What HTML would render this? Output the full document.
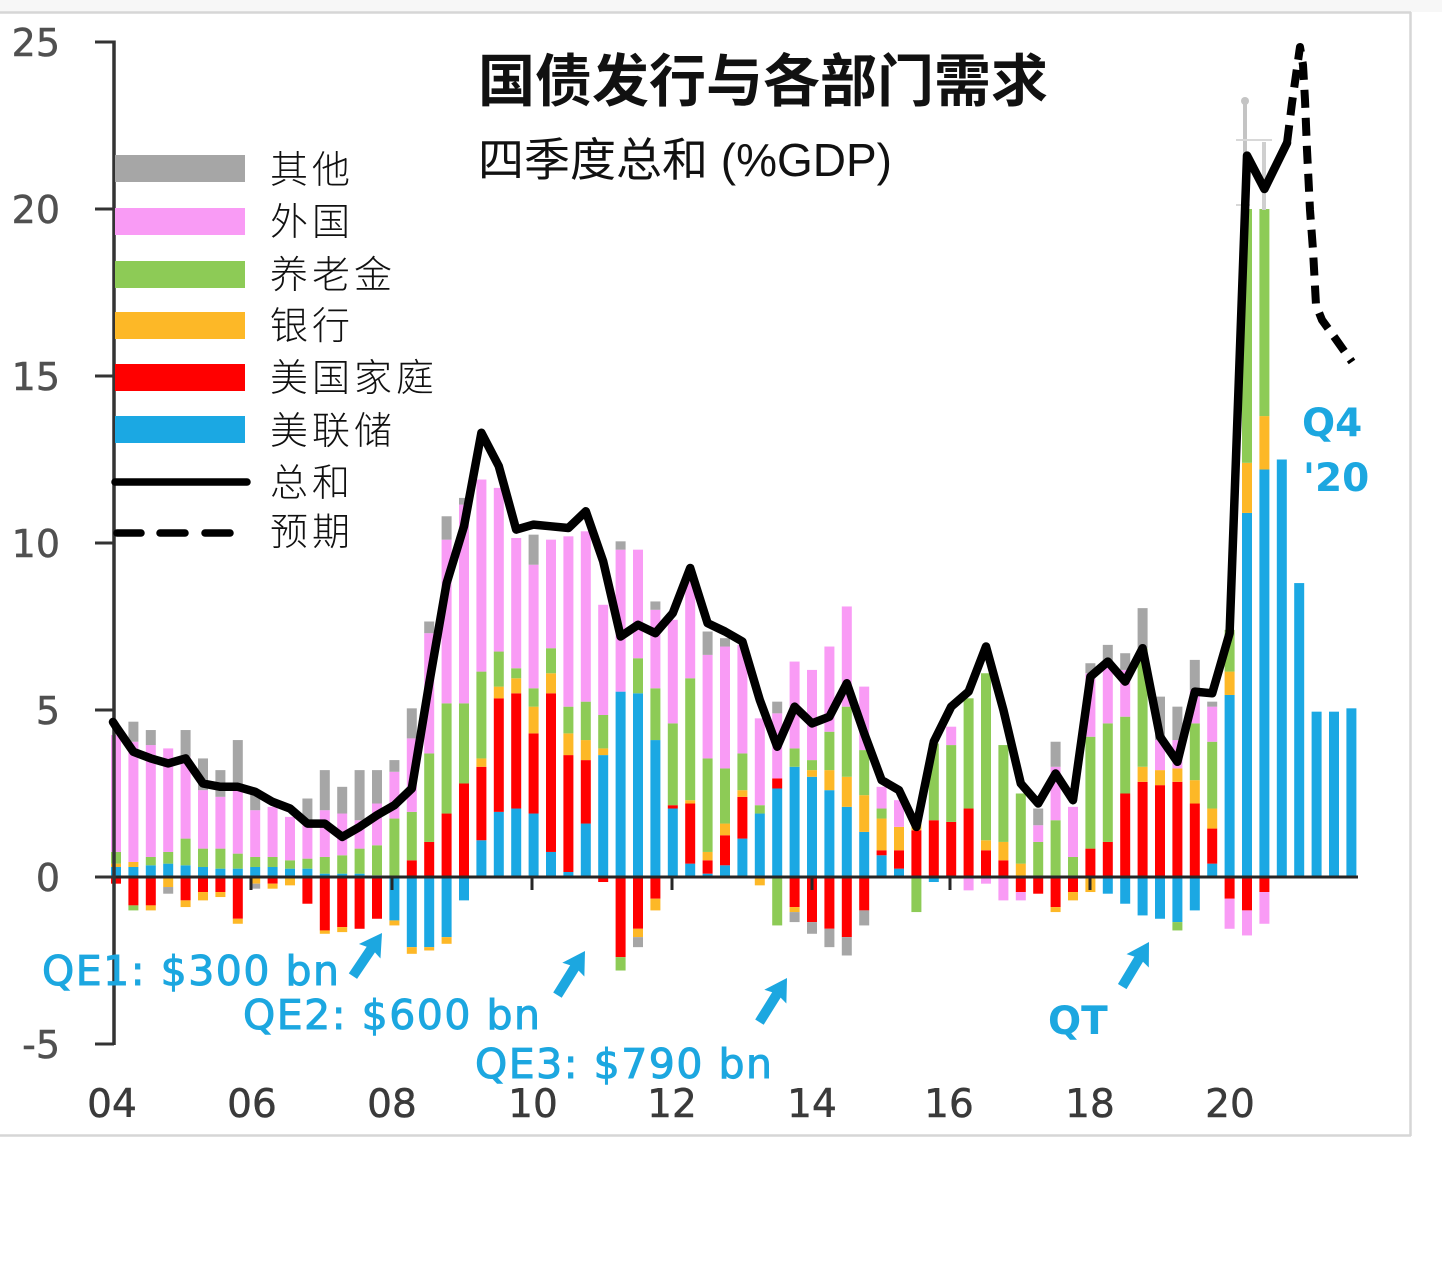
<!DOCTYPE html>
<html>
<head>
<meta charset="utf-8">
<style>
html,body{margin:0;padding:0;background:#fff;}
body{width:1442px;height:1262px;overflow:hidden;}
svg{display:block;}
.yl{font-family:"DejaVu Sans","Liberation Sans",sans-serif;font-size:38px;fill:#505050;stroke:#505050;stroke-width:0.5px;}
.xl{font-family:"DejaVu Sans","Liberation Sans",sans-serif;font-size:39px;fill:#3a3a3a;stroke:#3a3a3a;stroke-width:0.5px;}
.lg{font-family:"Liberation Sans","Noto Sans CJK SC",sans-serif;font-size:38px;font-weight:300;fill:#111;letter-spacing:4px;}
.an{font-family:"DejaVu Sans","Liberation Sans",sans-serif;font-size:41px;letter-spacing:1.5px;fill:#1CA7E0;stroke:#1CA7E0;stroke-width:1px;}
.anb{font-family:"DejaVu Sans","Liberation Sans",sans-serif;font-size:39px;font-weight:bold;fill:#1CA7E0;}
</style>
</head>
<body>
<svg id="c" xmlns="http://www.w3.org/2000/svg" width="1442" height="1262" viewBox="0 0 1442 1262">
  <rect x="0" y="0" width="1442" height="1262" fill="#ffffff"/>
  <rect x="0" y="0" width="1442" height="12" fill="#f7f7f7"/>
  <!-- frame -->
  <line x1="0" y1="12.5" x2="1411" y2="12.5" stroke="#d6d6d6" stroke-width="2.5"/>
  <line x1="1410.5" y1="12" x2="1410.5" y2="1136" stroke="#d6d6d6" stroke-width="2.5"/>
  <line x1="0" y1="1135.5" x2="1411" y2="1135.5" stroke="#d6d6d6" stroke-width="2.5"/>

  <g id="bars"></g>

  <!-- faint gray marks at top of 2020 bars -->
  <rect x="1243" y="100" width="4" height="110" fill="#c4c4c4"/>
  <circle cx="1245" cy="101" r="4" fill="#c4c4c4"/>
  <rect x="1262" y="142" width="4" height="68" fill="#cfcfcf"/>
  <line x1="1236" y1="140" x2="1272" y2="140" stroke="#d8d8d8" stroke-width="2"/>
  <line x1="1236" y1="205" x2="1250" y2="205" stroke="#d8d8d8" stroke-width="2"/>

  <!-- zero line -->
  <line x1="113" y1="877" x2="1358" y2="877" stroke="#262626" stroke-width="3"/>
  <!-- year ticks -->
  <g stroke="#262626" stroke-width="3">
    <line x1="251" y1="877" x2="251" y2="890"/>
    <line x1="392" y1="877" x2="392" y2="890"/>
    <line x1="532" y1="877" x2="532" y2="890"/>
    <line x1="672" y1="877" x2="672" y2="890"/>
    <line x1="812" y1="877" x2="812" y2="890"/>
    <line x1="950" y1="877" x2="950" y2="890"/>
    <line x1="1090" y1="877" x2="1090" y2="890"/>
  </g>
  <!-- y axis -->
  <line x1="114" y1="40.5" x2="114" y2="1045" stroke="#333" stroke-width="3.5"/>
  <g stroke="#333" stroke-width="3">
    <line x1="95" y1="42" x2="114" y2="42"/>
    <line x1="95" y1="209" x2="114" y2="209"/>
    <line x1="95" y1="376" x2="114" y2="376"/>
    <line x1="95" y1="543" x2="114" y2="543"/>
    <line x1="95" y1="710" x2="114" y2="710"/>
    <line x1="95" y1="877" x2="114" y2="877"/>
    <line x1="95" y1="1044" x2="114" y2="1044"/>
  </g>
  <g class="yl" text-anchor="end">
    <text x="60" y="56">25</text>
    <text x="60" y="223">20</text>
    <text x="60" y="390">15</text>
    <text x="60" y="557">10</text>
    <text x="60" y="724">5</text>
    <text x="60" y="891">0</text>
    <text x="60" y="1058">-5</text>
  </g>
  <g class="xl" text-anchor="middle">
    <text x="112" y="1117">04</text>
    <text x="252" y="1117">06</text>
    <text x="392" y="1117">08</text>
    <text x="533" y="1117">10</text>
    <text x="672" y="1117">12</text>
    <text x="812" y="1117">14</text>
    <text x="949" y="1117">16</text>
    <text x="1090" y="1117">18</text>
    <text x="1230" y="1117">20</text>
  </g>

  <g id="lines"></g>

  <!-- legend -->
  <rect x="115" y="155" width="130" height="27" fill="#A6A6A6"/>
  <rect x="115" y="208" width="130" height="27" fill="#F99BF5"/>
  <rect x="115" y="261" width="130" height="27" fill="#8DCB56"/>
  <rect x="115" y="312" width="130" height="27" fill="#FDB827"/>
  <rect x="115" y="364" width="130" height="27" fill="#FF0000"/>
  <rect x="115" y="416" width="130" height="27" fill="#1BA8E3"/>
  <line x1="115" y1="482" x2="247" y2="482" stroke="#000" stroke-width="7.5" stroke-linecap="round"/>
  <g stroke="#000" stroke-width="7.5" stroke-linecap="round">
    <line x1="117" y1="533" x2="141" y2="533"/>
    <line x1="160" y1="533" x2="185" y2="533"/>
    <line x1="205" y1="533" x2="230" y2="533"/>
  </g>
  <g class="lg">
    <text x="270" y="183">其他</text>
    <text x="270" y="235">外国</text>
    <text x="270" y="288">养老金</text>
    <text x="270" y="339">银行</text>
    <text x="270" y="391">美国家庭</text>
    <text x="270" y="444">美联储</text>
    <text x="270" y="496">总和</text>
    <text x="270" y="545">预期</text>
  </g>

  <!-- title -->
  <text x="478" y="101" style="font-family:'Liberation Sans','Noto Sans CJK SC',sans-serif;font-size:57px;font-weight:bold;fill:#111;">国债发行与各部门需求</text>
  <text x="478" y="176" style="font-family:'Liberation Sans','Noto Sans CJK SC',sans-serif;font-size:46px;fill:#111;">四季度总和 (%GDP)</text>

  <!-- annotations -->
  <text class="an" x="42" y="985">QE1: $300 bn</text>
  <text class="an" x="243" y="1029">QE2: $600 bn</text>
  <text class="an" x="475" y="1078">QE3: $790 bn</text>
  <text class="anb" x="1048" y="1034">QT</text>
  <text class="anb" x="1302" y="436">Q4</text>
  <text class="anb" x="1303" y="491">'20</text>

  <g fill="#1CA7E0">
    <path transform="translate(382,933) rotate(-56)" d="M0,0 L-22,-13 L-20,-5 L-52,-5 L-52,5 L-20,5 L-22,13 Z"/>
    <path transform="translate(585,951) rotate(-58)" d="M0,0 L-22,-13 L-20,-5 L-52,-5 L-52,5 L-20,5 L-22,13 Z"/>
    <path transform="translate(787,978) rotate(-58)" d="M0,0 L-22,-13 L-20,-5 L-52,-5 L-52,5 L-20,5 L-22,13 Z"/>
    <path transform="translate(1149,942) rotate(-59)" d="M0,0 L-22,-13 L-20,-5 L-52,-5 L-52,5 L-20,5 L-22,13 Z"/>
  </g>
</svg>
<script>
(function(){
  var NS="http://www.w3.org/2000/svg";
  function X(i){return 116+17.4*i;}
  function Y(v){return 877-v*33.4;}
  var C=['#1BA8E3','#FF0000','#FDB827','#8DCB56','#F99BF5','#A6A6A6'];
  var P=[
  [0.3,0,0.1,0.35,3.5,0],[0.3,0,0.15,0,3.6,0.6],[0.35,0,0,0.25,3.35,0.45],[0.4,0,0,0.35,3.1,0],
  [0.35,0,0,0.8,2.45,0.8],[0.3,0,0,0.55,1.75,0.95],[0.25,0,0,0.6,1.55,0.8],[0.25,0,0,0.45,1.9,1.5],
  [0.3,0,0,0.3,1.4,0.6],[0.3,0,0,0.3,1.5,0],[0.25,0,0,0.25,1.3,0],[0.25,0,0,0.3,1.05,0.75],
  [0.1,0,0,0.5,1.4,1.2],[0.1,0,0,0.55,1.25,0.8],[0.1,0,0,0.75,0.85,1.5],[0.05,0,0,0.9,1.25,1.0],
  [0,0,0,1.75,1.4,0.35],[0,0.5,0,1.45,2.2,0.9],[0,1.05,0,2.65,3.6,0.35],[0,1.9,0,3.3,4.9,0.7],
  [0,2.8,0,2.4,5.95,0.2],[1.1,2.2,0.25,2.6,5.75,0],[1.95,3.4,0.35,1.05,4.9,0],[2.05,3.45,0.45,0.3,3.9,0],
  [1.9,2.4,0.8,0.55,3.7,0.9],[0.75,4.75,0.6,0.75,3.25,0],[0.15,3.5,0.65,0.8,5.1,0],[1.6,1.9,0.6,1.15,5.1,0],
  [3.65,0,0.2,1.0,3.3,0],[5.55,0,0,0,4.25,0.25],[5.5,0,0,1.05,3.25,0],[4.1,0,0,1.55,2.35,0.25],
  [2.05,0.1,0,2.45,3.1,0],[0.4,1.8,0.1,3.65,2.9,0],[0.1,0.4,0.25,2.8,3.1,0.7],[0.35,0.9,0.35,1.65,3.65,0.25],
  [1.15,1.25,0.2,1.1,3.25,0],[1.9,0,0,0.25,2.6,0],[2.65,0.3,0,0,1.95,0.35],[3.3,0,0,0.55,2.6,0],
  [3.0,0,0.2,0.3,2.7,0],[2.6,0,0.6,1.15,2.55,0],[2.1,0,0.9,2.1,3.0,0],[1.35,0,1.1,1.35,1.9,0],
  [0.65,0.15,0.95,0.3,0.65,0],[0.25,0.55,0.7,0,0.8,0],[0,1.4,0.2,0,0.3,0],[0,1.7,0,2.3,0,0],
  [0,1.65,0,2.3,0.55,0],[0,2.05,0,3.3,0,0],[0,0.8,0.3,5.0,0,0],[0,0.5,0.55,2.9,0,0],
  [0,0,0.4,2.1,0,0],[0,0,0,1.05,0.5,0.5],[0,0,0,1.7,1.6,0.75],[0,0,0,0.6,1.5,0],
  [0,0.85,0,3.35,1.9,0.3],[0,1.05,0,3.55,1.7,0.65],[0,2.5,0,2.3,1.4,0.5],[0,2.85,0.45,3.55,0,1.2],
  [0,2.75,0.45,0,0.9,1.3],[0,2.85,0.4,0,0.85,1.0],[0,2.2,0.7,1.7,1.0,0.9],[0.4,1.05,0.6,2.0,1.05,0.15],
  [5.45,0,0.7,1.25,0,0],[10.9,0,1.5,7.6,0,0],[12.2,0,1.6,6.2,0,0],[12.5,0,0,0,0,0],
  [8.8,0,0,0,0,0],[4.95,0,0,0,0,0],[4.95,0,0,0,0,0],[5.05,0,0,0,0,0]
  ];
  var N={
  0:[0,0.2,0,0,0,0],1:[0,0.85,0,0.15,0,0],2:[0,0.85,0.15,0,0,0],3:[0,0,0.3,0,0,0.2],
  4:[0,0.7,0.2,0,0,0],5:[0,0.45,0.25,0,0,0],6:[0,0.45,0.15,0,0,0],7:[0,1.25,0.15,0,0,0],
  8:[0,0,0.2,0,0,0.15],9:[0,0.2,0.15,0,0,0],10:[0,0,0.25,0,0,0],11:[0,0.8,0,0,0,0],
  12:[0,1.6,0.1,0,0,0],13:[0,1.5,0.15,0,0,0],14:[0,1.55,0,0,0,0],15:[0,1.25,0,0,0,0],
  16:[1.3,0,0.15,0,0,0],17:[2.1,0,0.2,0,0,0],18:[2.1,0,0.1,0,0,0],19:[1.8,0,0.2,0,0,0],
  20:[0.7,0,0,0,0,0],28:[0,0.15,0,0,0,0],29:[0,2.4,0,0.4,0,0],30:[0,1.55,0.25,0,0,0.3],
  31:[0,0.65,0.35,0,0,0],37:[0,0,0.25,0,0,0],38:[0,0,0,1.45,0,0],39:[0,0.9,0.15,0,0,0.3],
  40:[0,1.35,0,0,0,0.35],41:[0,1.55,0,0,0,0.55],42:[0,1.8,0,0,0,0.55],43:[0,1.0,0,0,0,0.45],
  46:[0,0,0,1.05,0,0],47:[0.15,0,0,0,0,0],49:[0,0,0,0,0.4,0],50:[0,0,0,0,0.2,0],
  51:[0,0,0,0,0.7,0],52:[0,0.45,0,0,0.25,0],53:[0,0.5,0,0,0,0],54:[0,0.9,0.15,0,0,0],
  55:[0,0.45,0.25,0,0,0],56:[0,0,0.45,0,0,0],57:[0.5,0,0,0,0,0],58:[0.8,0,0,0,0,0],
  59:[1.15,0,0,0,0,0],60:[1.25,0,0,0,0,0],61:[1.35,0,0,0.25,0,0],62:[1.0,0,0,0,0,0],
  64:[0,0.65,0,0,0.9,0],65:[0,1.0,0,0,0.75,0],66:[0,0.45,0,0,0.95,0]
  };
  var g=document.getElementById('bars');
  var W=10;
  function rect(x,y,w,h,f){var r=document.createElementNS(NS,'rect');r.setAttribute('x',x);r.setAttribute('y',y);r.setAttribute('width',w);r.setAttribute('height',h);r.setAttribute('fill',f);g.appendChild(r);}
  for(var i=0;i<72;i++){
    var p=P[i],b=0,k,v;
    for(k=0;k<6;k++){v=p[k];if(v>0){rect(X(i)-W/2,Y(b+v),W,v*33.4,C[k]);b+=v;}}
    var n=N[i];
    if(n){b=0;for(k=0;k<6;k++){v=n[k];if(v>0){rect(X(i)-W/2,Y(-b),W,v*33.4,C[k]);b+=v;}}}
  }
  var L=[4.5,3.75,3.55,3.4,3.55,2.8,2.7,2.7,2.55,2.25,
         2.05,1.6,1.6,1.2,1.5,1.85,2.15,2.65,5.8,8.8,
         10.5,13.3,12.3,10.4,10.55,10.5,10.45,10.95,9.45,7.2,
         7.55,7.3,7.9,9.25,7.6,7.35,7.05,5.3,3.9,5.1,
         4.6,4.8,5.8,4.3,2.9,2.6,1.5,4.05,5.1,5.55,
         6.9,5.0,2.8,2.2,3.1,2.3,6.0,6.45,5.85,6.85,
         4.2,3.45,5.55,5.5,7.3,21.6,20.6];
  var pts="113,722 ";
  for(var j=0;j<L.length;j++){pts+=X(j).toFixed(1)+","+Y(L[j]).toFixed(1)+" ";}
  pts+="1287,143";
  var lg=document.getElementById('lines');
  var pl=document.createElementNS(NS,'polyline');
  pl.setAttribute('points',pts);pl.setAttribute('fill','none');pl.setAttribute('stroke','#000');
  pl.setAttribute('stroke-width','8.5');pl.setAttribute('stroke-linejoin','round');pl.setAttribute('stroke-linecap','round');
  lg.appendChild(pl);
  var dl=document.createElementNS(NS,'polyline');
  dl.setAttribute('points',"1287,143 1292,103 1300,47 1303,65 1305,100 1307,150 1310,210 1313,250 1316,305 1322,320 1335,338 1352,362");
  dl.setAttribute('fill','none');dl.setAttribute('stroke','#000');dl.setAttribute('stroke-width','8');
  dl.setAttribute('stroke-dasharray','18 10');dl.setAttribute('stroke-linejoin','round');
  lg.appendChild(dl);
})();
</script>
</body>
</html>
